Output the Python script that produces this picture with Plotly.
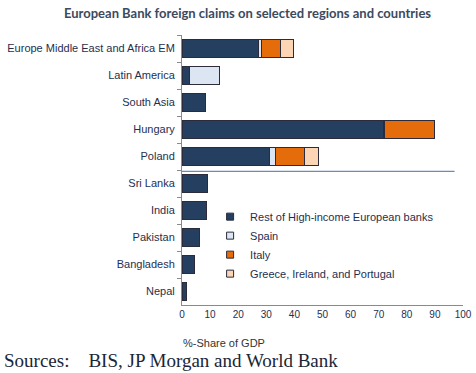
import plotly.graph_objects as go

categories = ["Europe Middle East and Africa EM", "Latin America", "South Asia", "Hungary", "Poland",
              "Sri Lanka", "India", "Pakistan", "Bangladesh", "Nepal"]
rest_high_income = [27.3, 2.6, 8.2, 71.7, 31.1, 9.0, 8.7, 6.2, 4.4, 1.5]
spain = [1.0, 10.8, 0, 0.3, 2.3, 0, 0, 0, 0, 0]
italy = [6.8, 0, 0, 18.0, 10.2, 0, 0, 0, 0, 0]
greece_ireland_portugal = [4.4, 0, 0, 0, 5.1, 0, 0, 0, 0, 0]
x_ticks = list(range(0, 101, 10))

series = [
    ("Rest of High-income European banks", rest_high_income, "#243f60"),
    ("Spain", spain, "#dce6f2"),
    ("Italy", italy, "#e46c0a"),
    ("Greece, Ireland, and Portugal", greece_ireland_portugal, "#fcd5b4"),
]

fig = go.Figure()
for name, vals, color in series:
    fig.add_trace(go.Bar(
        y=categories, x=vals, name=name, orientation="h",
        marker=dict(color=color, line=dict(color="#2b2b3b", width=1)),
        width=0.7, showlegend=False, hoverinfo="x+y+name",
    ))
# legend entries with small square symbols
for name, vals, color in series:
    fig.add_trace(go.Scatter(
        x=[None], y=[None], mode="markers", name=name,
        marker=dict(symbol="square", size=7, color=color, line=dict(color="#2b2b3b", width=1)),
    ))

fig.update_layout(
    barmode="stack",
    width=476, height=373,
    margin=dict(l=182, r=13, t=35, b=68, autoexpand=False),
    paper_bgcolor="white", plot_bgcolor="white",
    font=dict(family="Arial, Liberation Sans, sans-serif", size=11, color="#1f2f4f"),
    title=dict(text="European Bank foreign claims on selected regions and countries",
               x=0.52, xanchor="center", y=0.964, yanchor="middle",
               font=dict(family="Lato", size=13, color="#3b4a5e", weight="bold")),
    showlegend=True,
    legend=dict(x=0.1, y=0.381, xanchor="left", yanchor="top", traceorder="normal",
                bgcolor="rgba(0,0,0,0)", font=dict(size=11, color="#1f2f4f"),
                itemwidth=30, tracegroupgap=0),
    xaxis=dict(range=[0, 100], tickvals=x_ticks, showgrid=False, zeroline=False,
               showline=True, linecolor="#8a8a8a", ticks="", tickfont=dict(size=10),
               fixedrange=True, automargin=False),
    yaxis=dict(autorange="reversed", showline=True, linecolor="#8a8a8a",
               ticks="outside", tickson="boundaries", ticklen=4, tickcolor="#8a8a8a",
               ticklabelstandoff=4, fixedrange=True,
               showgrid=False, tickfont=dict(size=11), automargin=False),
    bargap=0.3,
)

fig.add_shape(type="line", xref="x", yref="y", x0=0, x1=97, y0=4.55, y1=4.55,
              line=dict(color="#6a8db5", width=1.2))

fig.add_annotation(text="%-Share of GDP", xref="paper", yref="paper", x=-0.005, y=-0.141,
                   xanchor="left", yanchor="middle", showarrow=False,
                   font=dict(size=11, color="#333333"))
fig.add_annotation(text="Sources:\u00a0\u00a0\u00a0 BIS, JP Morgan and World Bank", xref="paper", yref="paper",
                   x=-0.64, y=-0.207, xanchor="left", yanchor="middle", showarrow=False,
                   font=dict(family="Liberation Serif, Times New Roman, serif", size=19, color="#1a2636"))

fig.write_html("out.html", config={"displayModeBar": False},
               post_script="document.body.style.margin='0px';")
